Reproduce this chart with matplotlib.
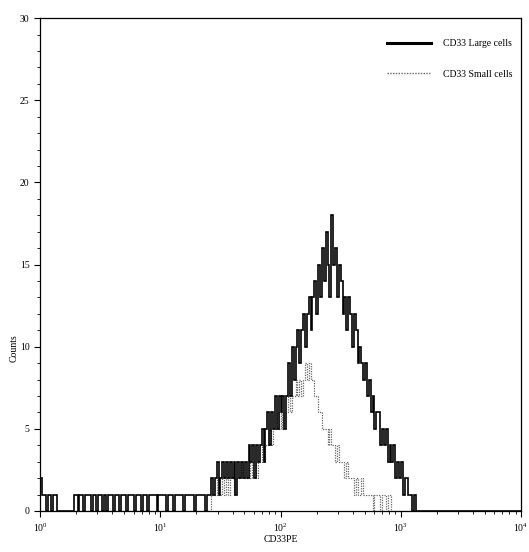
import numpy as np
import matplotlib
matplotlib.use("Agg")
import matplotlib.pyplot as plt
from matplotlib.ticker import MultipleLocator, LogLocator, NullFormatter
from matplotlib.lines import Line2D

plt.rcParams['font.family'] = ['Liberation Serif', 'DejaVu Serif']

# 256 log channels spanning 10^0 .. 10^4
n_channels = 256
decades = 4

large_counts = (
    [2, 1, 1, 0, 1, 1, 0, 1, 1, 0] +
    [0, 0, 0, 0, 0, 0, 0, 0, 1, 1] +
    [0, 1, 1, 0, 1, 1, 1, 0, 1, 1] +
    [0, 1, 1, 0, 1, 0, 1, 1, 1, 0] +
    [1, 1, 0, 1, 1, 1, 0, 1, 1, 1] +
    [0, 1, 1, 1, 0, 1, 1, 0, 1, 1] +
    [1, 1, 0, 1, 1, 1, 1, 0, 1, 1] +
    [1, 0, 1, 1, 1, 1, 0, 1, 1, 1] +
    [1, 1, 0, 1, 1, 1, 1, 1, 0, 1] +
    [1, 2, 1, 2, 3, 1, 2, 3, 2, 3] +
    [2, 3, 2, 3, 1, 3, 2, 3, 2, 3] +
    [2, 4, 3, 4, 2, 4, 3, 4, 5, 3] +
    [5, 6, 4, 6, 5, 7, 5, 7, 6, 7] +
    [5, 7, 9, 7, 10, 8, 10, 11, 9, 11] +
    [12, 10, 12, 13, 11, 13, 14, 12, 15, 13] +
    [16, 14, 17, 15, 13, 18, 15, 16, 13, 15] +
    [14, 12, 13, 11, 13, 12, 10, 12, 11, 9] +
    [10, 9, 8, 9, 7, 8, 6, 7, 5, 6] +
    [6, 4, 5, 4, 5, 3, 4, 3, 4, 2] +
    [3, 2, 3, 1, 2, 2, 1, 1, 0, 1] +
    [0] * 56
)

small_counts = (
    [0] * 91 +
    [1, 1, 1, 2, 1, 1, 2, 1, 2] +
    [1, 2, 2, 1, 2, 2, 2, 3, 2, 2] +
    [2, 3, 2, 3, 3, 2, 3, 3, 4, 3] +
    [4, 4, 5, 4, 5, 5, 6, 5, 6, 5] +
    [6, 6, 7, 6, 7, 7, 8, 7, 8, 7] +
    [8, 9, 8, 9, 8, 8, 7, 7, 6, 6] +
    [5, 5, 5, 4, 5, 4, 4, 3, 4, 3] +
    [3, 3, 2, 3, 2, 2, 2, 1, 2, 1] +
    [1, 2, 1, 1, 1, 1, 1, 0, 1, 1] +
    [1, 0, 1, 1, 0, 1, 1, 0, 0, 0] +
    [0] * 66
)

series_labels = ["CD33 Large cells", "CD33 Small cells"]
x_label = "CD33PE"
y_label = "Counts"

edges = 10 ** (np.arange(n_channels + 1) * decades / n_channels)

fig = plt.figure(figsize=(5.29, 5.52), dpi=100)
ax = fig.add_axes([0.0756, 0.0743, 0.9094, 0.8927])

ax.stairs(small_counts, edges, color='#666666', lw=0.9, linestyle=(0, (1, 1)),
          label=series_labels[1], zorder=2)
ax.stairs(large_counts, edges, color='black', lw=1.2,
          label=series_labels[0], zorder=3)

ax.set_xscale('log')
ax.set_xlim(1, 1e4)
ax.set_ylim(0, 30)
ax.yaxis.set_major_locator(MultipleLocator(5))
ax.yaxis.set_minor_locator(MultipleLocator(1))
ax.xaxis.set_major_locator(LogLocator(base=10, numticks=10))
ax.xaxis.set_minor_locator(LogLocator(base=10, subs=np.arange(2, 10), numticks=10))
ax.xaxis.set_minor_formatter(NullFormatter())
ax.tick_params(axis='both', which='major', labelsize=7, length=4, width=0.8)
ax.tick_params(axis='both', which='minor', length=2, width=0.6)

ax.set_xlabel(x_label, fontsize=7, labelpad=1)
ax.set_ylabel(y_label, fontsize=7)
ax.yaxis.set_label_coords(-0.045, 0.33)

for s in ax.spines.values():
    s.set_linewidth(0.9)

h_large = Line2D([], [], color='black', lw=2.2)
h_small = Line2D([], [], color='#666666', lw=1.0, linestyle=(0, (1, 1)))
ax.legend([h_large, h_small], series_labels, loc='upper right',
          bbox_to_anchor=(1.0, 0.975), frameon=False, fontsize=7,
          handlelength=4.5, labelspacing=2.2, handletextpad=1.2)

fig.savefig("out.png", dpi=100)
